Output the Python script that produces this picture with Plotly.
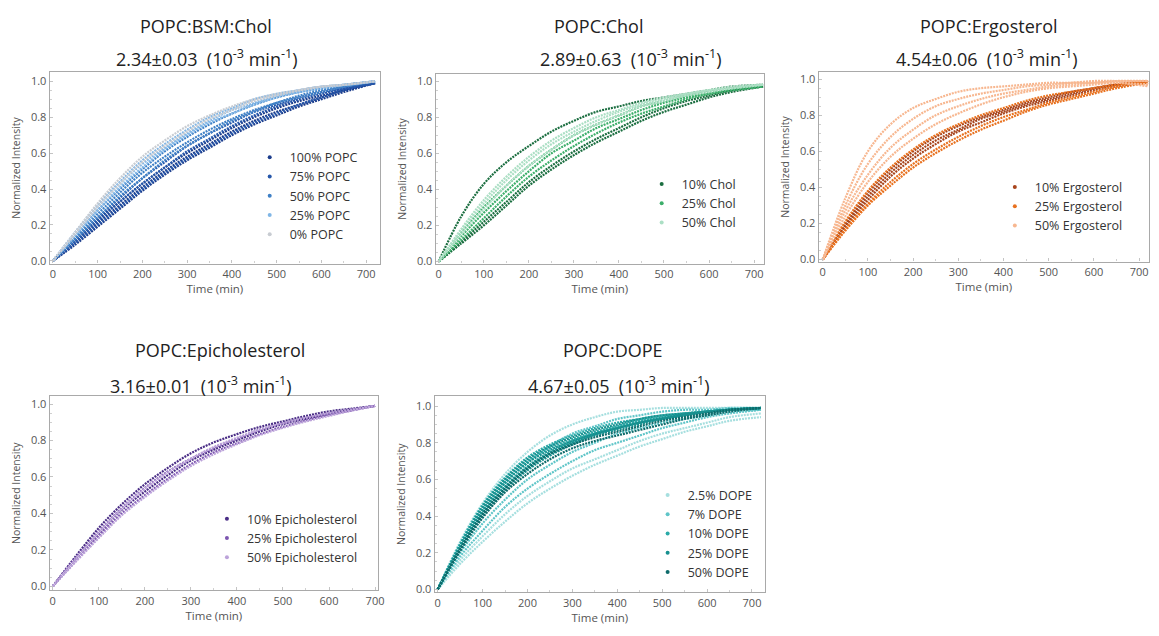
import plotly.graph_objects as go

# ---------------- data ----------------
times = [0, 50, 100, 150, 200, 250, 300, 350, 400, 450, 500, 550, 600, 650, 720]
times_epi = [0, 50, 100, 150, 200, 250, 300, 350, 400, 450, 500, 550, 600, 650, 700]
x_ticks = [0, 100, 200, 300, 400, 500, 600, 700]
y_ticks = [0.0, 0.2, 0.4, 0.6, 0.8, 1.0]
y_tick_labels = ["0.0", "0.2", "0.4", "0.6", "0.8", "1.0"]

# Panel 1: POPC:BSM:Chol
bsm_names = ["100% POPC", "75% POPC", "50% POPC", "25% POPC", "0% POPC"]
bsm_colors = ["#1c3d8c", "#2657aa", "#3f80c6", "#80b6e6", "#c8ccd2"]
bsm_100 = [[0, 0.09, 0.19, 0.29, 0.39, 0.48, 0.56, 0.63, 0.70, 0.76, 0.81, 0.86, 0.90, 0.94, 0.99],
           [0, 0.10, 0.21, 0.31, 0.41, 0.50, 0.58, 0.65, 0.72, 0.78, 0.83, 0.87, 0.91, 0.95, 0.99],
           [0, 0.11, 0.23, 0.33, 0.43, 0.52, 0.60, 0.67, 0.74, 0.80, 0.85, 0.89, 0.92, 0.95, 0.99]]
bsm_75 = [[0, 0.11, 0.22, 0.33, 0.43, 0.52, 0.61, 0.68, 0.75, 0.81, 0.86, 0.90, 0.93, 0.96, 0.99],
          [0, 0.12, 0.24, 0.35, 0.46, 0.55, 0.64, 0.71, 0.77, 0.83, 0.87, 0.91, 0.94, 0.96, 0.99],
          [0, 0.10, 0.20, 0.30, 0.40, 0.49, 0.57, 0.64, 0.71, 0.77, 0.82, 0.87, 0.91, 0.95, 0.99]]
bsm_50 = [[0, 0.13, 0.26, 0.38, 0.49, 0.58, 0.66, 0.73, 0.79, 0.84, 0.88, 0.92, 0.95, 0.97, 1.0],
          [0, 0.14, 0.28, 0.40, 0.51, 0.61, 0.69, 0.76, 0.82, 0.87, 0.91, 0.94, 0.96, 0.98, 1.0],
          [0, 0.12, 0.24, 0.36, 0.46, 0.56, 0.64, 0.71, 0.78, 0.83, 0.88, 0.91, 0.94, 0.97, 1.0]]
bsm_25 = [[0, 0.15, 0.30, 0.43, 0.54, 0.63, 0.71, 0.78, 0.84, 0.88, 0.92, 0.95, 0.97, 0.98, 1.0],
          [0, 0.16, 0.31, 0.44, 0.56, 0.65, 0.73, 0.80, 0.85, 0.90, 0.93, 0.95, 0.97, 0.98, 1.0],
          [0, 0.14, 0.28, 0.41, 0.52, 0.62, 0.70, 0.77, 0.82, 0.87, 0.91, 0.94, 0.96, 0.98, 1.0]]
bsm_0 = [[0, 0.16, 0.32, 0.46, 0.58, 0.67, 0.75, 0.81, 0.86, 0.90, 0.93, 0.95, 0.97, 0.98, 1.0],
         [0, 0.15, 0.30, 0.43, 0.55, 0.64, 0.72, 0.79, 0.84, 0.89, 0.92, 0.95, 0.97, 0.98, 1.0]]

# Panel 2: POPC:Chol
chol_names = ["10% Chol", "25% Chol", "50% Chol"]
chol_colors = ["#1b6e40", "#3cae6a", "#abdfc4"]
chol_10 = [[0, 0.25, 0.43, 0.55, 0.64, 0.72, 0.78, 0.83, 0.86, 0.89, 0.91, 0.93, 0.95, 0.97, 0.98],
           [0, 0.10, 0.20, 0.31, 0.42, 0.51, 0.59, 0.66, 0.72, 0.78, 0.83, 0.87, 0.91, 0.94, 0.97],
           [0, 0.11, 0.22, 0.33, 0.44, 0.53, 0.61, 0.68, 0.74, 0.80, 0.85, 0.89, 0.92, 0.95, 0.97]]
chol_25 = [[0, 0.14, 0.27, 0.39, 0.50, 0.60, 0.67, 0.74, 0.79, 0.84, 0.88, 0.91, 0.93, 0.95, 0.97],
           [0, 0.16, 0.30, 0.42, 0.53, 0.62, 0.70, 0.76, 0.81, 0.86, 0.89, 0.92, 0.94, 0.96, 0.98],
           [0, 0.12, 0.24, 0.36, 0.47, 0.56, 0.64, 0.71, 0.77, 0.82, 0.86, 0.90, 0.93, 0.95, 0.97]]
chol_50 = [[0, 0.18, 0.34, 0.47, 0.58, 0.67, 0.74, 0.80, 0.84, 0.88, 0.91, 0.93, 0.95, 0.97, 0.98],
           [0, 0.17, 0.32, 0.45, 0.56, 0.65, 0.72, 0.78, 0.83, 0.87, 0.90, 0.93, 0.95, 0.96, 0.98],
           [0, 0.15, 0.29, 0.42, 0.53, 0.62, 0.70, 0.76, 0.81, 0.86, 0.89, 0.92, 0.94, 0.96, 0.98]]

# Panel 3: POPC:Ergosterol
ergo_names = ["10% Ergosterol", "25% Ergosterol", "50% Ergosterol"]
ergo_colors = ["#a8441c", "#e8711f", "#f7b790"]
ergo_10 = [[0, 0.20, 0.37, 0.50, 0.60, 0.68, 0.74, 0.79, 0.83, 0.87, 0.90, 0.93, 0.95, 0.97, 0.99],
           [0, 0.19, 0.35, 0.48, 0.58, 0.66, 0.72, 0.78, 0.82, 0.86, 0.89, 0.92, 0.95, 0.97, 0.99],
           [0, 0.18, 0.33, 0.46, 0.56, 0.64, 0.71, 0.76, 0.81, 0.85, 0.88, 0.91, 0.94, 0.96, 0.99]]
ergo_25 = [[0, 0.21, 0.38, 0.51, 0.61, 0.69, 0.75, 0.80, 0.84, 0.88, 0.91, 0.93, 0.95, 0.97, 0.99],
           [0, 0.17, 0.31, 0.43, 0.53, 0.61, 0.68, 0.74, 0.79, 0.83, 0.87, 0.90, 0.93, 0.96, 0.99],
           [0, 0.16, 0.30, 0.41, 0.51, 0.59, 0.66, 0.72, 0.77, 0.82, 0.86, 0.89, 0.92, 0.95, 0.98]]
ergo_50 = [[0, 0.34, 0.60, 0.75, 0.84, 0.89, 0.93, 0.95, 0.96, 0.97, 0.98, 0.98, 0.99, 0.99, 0.99],
           [0, 0.30, 0.53, 0.68, 0.78, 0.85, 0.89, 0.92, 0.94, 0.96, 0.97, 0.98, 0.98, 0.99, 0.99],
           [0, 0.27, 0.47, 0.62, 0.72, 0.80, 0.85, 0.89, 0.92, 0.94, 0.96, 0.97, 0.98, 0.98, 0.97],
           [0, 0.24, 0.43, 0.57, 0.67, 0.75, 0.81, 0.86, 0.90, 0.93, 0.95, 0.96, 0.97, 0.98, 0.96]]

# Panel 4: POPC:Epicholesterol
epi_names = ["10% Epicholesterol", "25% Epicholesterol", "50% Epicholesterol"]
epi_colors = ["#4a2d86", "#7c55b0", "#bca3da"]
epi_10 = [[0, 0.165, 0.32, 0.45, 0.56, 0.65, 0.73, 0.79, 0.835, 0.875, 0.905, 0.935, 0.96, 0.975, 0.99],
          [0, 0.15, 0.29, 0.42, 0.52, 0.61, 0.69, 0.75, 0.80, 0.85, 0.89, 0.92, 0.945, 0.97, 0.99]]
epi_25 = [[0, 0.155, 0.30, 0.43, 0.54, 0.63, 0.70, 0.76, 0.81, 0.86, 0.895, 0.925, 0.95, 0.97, 0.99],
          [0, 0.14, 0.275, 0.40, 0.50, 0.59, 0.67, 0.735, 0.785, 0.835, 0.875, 0.91, 0.94, 0.965, 0.99]]
epi_50 = [[0, 0.15, 0.295, 0.425, 0.535, 0.625, 0.70, 0.765, 0.815, 0.86, 0.895, 0.925, 0.95, 0.97, 0.99],
          [0, 0.135, 0.265, 0.39, 0.49, 0.58, 0.66, 0.725, 0.78, 0.83, 0.87, 0.905, 0.935, 0.965, 0.99]]

# Panel 5: POPC:DOPE
dope_names = ["2.5% DOPE", "7% DOPE", "10% DOPE", "25% DOPE", "50% DOPE"]
dope_colors = ["#a6dfdf", "#5fc5c8", "#2aaaa8", "#17908f", "#0e6b6b"]
dope_2_5 = [[0, 0.26, 0.47, 0.63, 0.75, 0.84, 0.90, 0.94, 0.97, 0.98, 0.99, 0.99, 0.99, 0.99, 0.99],
            [0, 0.14, 0.26, 0.37, 0.47, 0.55, 0.62, 0.68, 0.73, 0.78, 0.82, 0.86, 0.89, 0.92, 0.94],
            [0, 0.16, 0.29, 0.41, 0.51, 0.59, 0.66, 0.71, 0.76, 0.81, 0.85, 0.88, 0.91, 0.94, 0.96]]
dope_7 = [[0, 0.20, 0.36, 0.49, 0.60, 0.68, 0.75, 0.80, 0.85, 0.88, 0.91, 0.93, 0.95, 0.97, 0.98],
          [0, 0.24, 0.43, 0.58, 0.69, 0.78, 0.85, 0.89, 0.93, 0.95, 0.97, 0.98, 0.98, 0.99, 0.99],
          [0, 0.18, 0.32, 0.45, 0.55, 0.63, 0.70, 0.76, 0.80, 0.84, 0.88, 0.91, 0.94, 0.96, 0.98]]
dope_10 = [[0, 0.24, 0.44, 0.59, 0.70, 0.77, 0.82, 0.86, 0.89, 0.92, 0.94, 0.96, 0.97, 0.98, 0.99],
           [0, 0.23, 0.42, 0.56, 0.67, 0.75, 0.81, 0.85, 0.88, 0.91, 0.93, 0.95, 0.97, 0.98, 0.99],
           [0, 0.22, 0.41, 0.55, 0.66, 0.74, 0.80, 0.85, 0.89, 0.92, 0.94, 0.96, 0.97, 0.98, 0.99],
           [0, 0.25, 0.46, 0.61, 0.72, 0.79, 0.84, 0.88, 0.91, 0.93, 0.95, 0.96, 0.97, 0.98, 0.99]]
dope_25 = [[0, 0.23, 0.43, 0.58, 0.69, 0.76, 0.81, 0.85, 0.88, 0.91, 0.93, 0.95, 0.97, 0.98, 0.99],
           [0, 0.22, 0.40, 0.54, 0.65, 0.73, 0.79, 0.84, 0.87, 0.90, 0.93, 0.95, 0.96, 0.98, 0.99],
           [0, 0.24, 0.45, 0.60, 0.71, 0.78, 0.83, 0.87, 0.90, 0.93, 0.95, 0.96, 0.97, 0.98, 0.99],
           [0, 0.225, 0.415, 0.56, 0.67, 0.745, 0.80, 0.845, 0.88, 0.91, 0.935, 0.955, 0.97, 0.98, 0.99]]
dope_50 = [[0, 0.21, 0.39, 0.53, 0.63, 0.71, 0.77, 0.81, 0.84, 0.87, 0.90, 0.93, 0.95, 0.97, 0.99],
           [0, 0.22, 0.41, 0.55, 0.66, 0.74, 0.79, 0.83, 0.86, 0.89, 0.92, 0.94, 0.96, 0.98, 0.99]]

titles_line1 = ["POPC:BSM:Chol", "POPC:Chol", "POPC:Ergosterol", "POPC:Epicholesterol", "POPC:DOPE"]
rates = ["2.34±0.03", "2.89±0.63", "4.54±0.06", "3.16±0.01", "4.67±0.05"]

# ---------------- layout geometry (pixels) ----------------
W, H = 1159, 636
FONT = "Open Sans"
panels = [
    dict(box=(50, 382, 72, 265), xr=[-7, 731], yr=[-0.015, 1.05], t=times,
         names=bsm_names, colors=bsm_colors, curves=[bsm_100, bsm_75, bsm_50, bsm_25, bsm_0],
         t1=(207, 25), t2=(208, 58), leg=(251, 157)),
    dict(box=(438, 768, 74, 265), xr=[-6.6, 722], yr=[-0.011, 1.038], t=times,
         names=chol_names, colors=chol_colors, curves=[chol_10, chol_25, chol_50],
         t1=(602, 25), t2=(634, 58), leg=(645, 184)),
    dict(box=(823, 1155, 72, 263), xr=[-8.8, 722], yr=[-0.011, 1.038], t=times,
         names=ergo_names, colors=ergo_colors, curves=[ergo_10, ergo_25, ergo_50],
         t1=(994, 25), t2=(992, 58), leg=(1000, 187)),
    dict(box=(50, 380, 399, 595), xr=[-6.5, 706.5], yr=[-0.022, 1.043], t=times_epi,
         names=epi_names, colors=epi_colors, curves=[epi_10, epi_25, epi_50],
         t1=(221, 352), t2=(202, 388), leg=(208, 522)),
    dict(box=(437, 769, 399, 597), xr=[-6.6, 729], yr=[-0.016, 1.054], t=times,
         names=dope_names, colors=dope_colors, curves=[dope_2_5, dope_7, dope_10, dope_25, dope_50],
         t1=(616, 352), t2=(622, 388), leg=(651, 498)),
]

fig = go.Figure()
layout = dict(width=W, height=H, margin=dict(l=0, r=0, t=0, b=0),
              paper_bgcolor="white", plot_bgcolor="white",
              font=dict(family=FONT, color="#444"), showlegend=True)
annotations = []

for i, p in enumerate(panels):
    n = i + 1
    sfx = "" if n == 1 else str(n)
    xa, ya = "x" + sfx, "y" + sfx
    legname = "legend" + sfx
    x0, x1, y0, y1 = p["box"]
    axis_common = dict(showline=True, mirror=True, linecolor="#a9a9a9", linewidth=1.3,
                       showgrid=False, zeroline=False, ticks="inside", ticklen=3,
                       tickcolor="#c4c4c4", tickfont=dict(size=11, color="#555", family=FONT),
                       minor=dict(ticks="inside", ticklen=2, tickcolor="#d0d0d0"))
    layout["xaxis" + sfx] = dict(axis_common, domain=[x0 / W, x1 / W], range=p["xr"],
                                 anchor=ya, tickvals=x_ticks,
                                 title=dict(text="Time (min)", standoff=3,
                                            font=dict(size=11.5, color="#555", family=FONT)))
    layout["yaxis" + sfx] = dict(axis_common, domain=[1 - y1 / H, 1 - y0 / H], range=p["yr"],
                                 anchor=xa, tickvals=y_ticks, ticktext=y_tick_labels,
                                 title=dict(text="Normalized Intensity", standoff=8,
                                            font=dict(size=10.5, color="#555", family=FONT)))
    for name, color, curves in zip(p["names"], p["colors"], p["curves"]):
        for c in curves:
            fig.add_trace(go.Scatter(x=p["t"], y=c, mode="lines", xaxis=xa, yaxis=ya,
                                     line=dict(color=color, width=2.2, dash="2px,1px", shape="spline"),
                                     showlegend=False, hoverinfo="skip"))
        fig.add_trace(go.Scatter(x=[None], y=[None], mode="markers", xaxis=xa, yaxis=ya,
                                 marker=dict(color=color, size=4), name=name, legend=legname))
    lx, ly = p["leg"]
    layout[legname] = dict(x=lx / W, y=1 - (ly - 14) / H, xanchor="left", yanchor="top",
                           bgcolor="rgba(0,0,0,0)", borderwidth=0, itemwidth=30,
                           font=dict(size=12.5, color="#333", family=FONT), tracegroupgap=0)
    annotations.append(dict(text=titles_line1[i], x=p["t1"][0] / W, y=1 - p["t1"][1] / H,
                            xref="paper", yref="paper", showarrow=False, xanchor="center",
                            yanchor="middle", font=dict(size=18, color="#222", family=FONT)))
    annotations.append(dict(text=rates[i] + "\u00a0\u00a0(10<sup>-3</sup>\u00a0min<sup>-1</sup>)",
                            x=p["t2"][0] / W, y=1 - p["t2"][1] / H,
                            xref="paper", yref="paper", showarrow=False, xanchor="center",
                            yanchor="middle", font=dict(size=18, color="#222", family=FONT)))

layout["annotations"] = annotations
fig.update_layout(**layout)
fig.write_html("out.html")
